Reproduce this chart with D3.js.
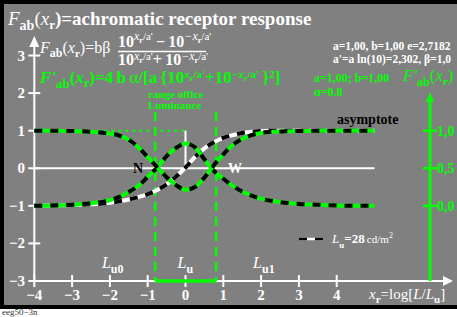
<!DOCTYPE html>
<html><head><meta charset="utf-8">
<script src="https://cdn.jsdelivr.net/npm/d3@7"></script>
<style>body{margin:0;background:#fff}svg{display:block}text{font-family:"Liberation Serif","Times New Roman",serif}</style>
</head><body>
<script>
const xTicks = [-4,-3,-2,-1,0,1,2,3,4];
const yTicks = [3,2,1,0,-1,-2,-3];
const rightTicks = [1,0,-1];
const rightLabels = ["1,0","0,5","0,0"];
const xs = [-4,-3.5,-3,-2.5,-2,-1.75,-1.5,-1.25,-1,-0.75,-0.5,-0.25,0,0.25,0.5,0.75,1,1.25,1.5,1.75,2,2.5,3,3.5,4,4.5,5];
const curveQ = [1.0,1.0,0.99,0.97,0.92,0.87,0.76,0.56,0.30,0.03,-0.24,-0.45,-0.57,-0.50,-0.25,0.08,0.37,0.62,0.78,0.88,0.94,0.98,0.99,1.0,1.0,1.0,1.0];
const curveP = [-1.0,-0.99,-0.97,-0.93,-0.85,-0.76,-0.63,-0.47,-0.23,0.02,0.32,0.54,0.66,0.56,0.24,-0.07,-0.28,-0.47,-0.62,-0.73,-0.81,-0.90,-0.95,-0.97,-0.99,-1.0,-1.0];
const curveW = [-1.0,-0.99,-0.98,-0.96,-0.92,-0.88,-0.83,-0.77,-0.69,-0.58,-0.43,-0.22,0.02,0.30,0.53,0.69,0.81,0.88,0.94,0.97,0.99,1.0,1.0,1.0,1.0,1.0,1.0];
const rangeLo = -0.8, rangeHi = 0.81;
const lumLabels = [{x:-2, sub:"u0"},{x:0, sub:"u"},{x:2, sub:"u1"}];

const W = 457, H = 317;
const GREEN = "#00ff00", GRAY = "#808080";
const svg = d3.select("body").append("svg").attr("width",W).attr("height",H);
svg.append("rect").attr("width",W).attr("height",309).attr("fill","#000");
svg.append("rect").attr("x",4).attr("y",4).attr("width",W).attr("height",301).attr("fill",GRAY);

const x = d3.scaleLinear().domain([-4,4]).range([34.3,336.7]);
const y = d3.scaleLinear().domain([-3,3]).range([281,55.5]);

function rich(g, px, py, size, weight, color, parts, anchor){
  const t = g.append("text").attr("x",px).attr("y",py).attr("font-size",size)
    .attr("font-weight",weight).attr("fill",color);
  if (anchor) t.attr("text-anchor",anchor);
  let cur = 0;
  parts.forEach(p => {
    const o = p.o || 0;
    const ts = t.append("tspan").text(p.t).attr("dy", o - cur).attr("font-size", p.s || size);
    if (p.dx) ts.attr("dx", p.dx);
    if (p.i) ts.attr("font-style","italic");
    if (p.w) ts.attr("font-weight",p.w);
    cur = o;
  });
  return t;
}

// axes
const ax = svg.append("g");
ax.append("line").attr("x1",x(-4)).attr("x2",448).attr("y1",y(-3)).attr("y2",y(-3)).attr("stroke","#fff").attr("stroke-width",2);
ax.append("path").attr("d",`M453,${y(-3)} L443,${y(-3)-5} L443,${y(-3)+5}Z`).attr("fill","#fff");
ax.append("line").attr("x1",x(-4)).attr("x2",x(-4)).attr("y1",y(-3)).attr("y2",44).attr("stroke","#fff").attr("stroke-width",2);
ax.append("path").attr("d",`M${x(-4)},36 L${x(-4)-5},47 L${x(-4)+5},47Z`).attr("fill","#fff");
xTicks.forEach(v=>{
  ax.append("line").attr("x1",x(v)).attr("x2",x(v)).attr("y1",y(-3)-6).attr("y2",y(-3)+6).attr("stroke","#fff").attr("stroke-width",2);
  ax.append("text").attr("x",x(v)).attr("y",300).attr("text-anchor","middle").attr("font-size",15).attr("font-weight","bold").attr("fill","#fff").text(v<0?"\u2212"+(-v):v);
});
yTicks.forEach(v=>{
  ax.append("line").attr("x1",x(-4)-6).attr("x2",x(-4)+6).attr("y1",y(v)).attr("y2",y(v)).attr("stroke","#fff").attr("stroke-width",2);
  ax.append("text").attr("x",25).attr("y",y(v)+5).attr("text-anchor","end").attr("font-size",15).attr("font-weight","bold").attr("fill","#fff").text(v<0?"\u2212"+(-v):v);
});
rich(svg, 369, 299, 15, "normal", "#fff", [{t:"x",i:1},{t:"r",o:4,s:11,w:"bold"},{t:"=log["},{t:"L",i:1},{t:"/"},{t:"L",i:1},{t:"u",o:4,s:11,w:"bold"},{t:"]"}]);

// y=0 line and helper lines
svg.append("line").attr("x1",x(-4)).attr("x2",x(5)).attr("y1",y(0)).attr("y2",y(0)).attr("stroke","#fff").attr("stroke-width",2);
svg.append("line").attr("x1",x(-4)).attr("x2",x(0)).attr("y1",y(1)).attr("y2",y(1)).attr("stroke",GREEN).attr("stroke-width",2).attr("stroke-dasharray","3,4");
svg.append("line").attr("x1",x(0)).attr("x2",x(0)).attr("y1",y(1)).attr("y2",y(0)).attr("stroke","#fff").attr("stroke-width",2);
[rangeLo, rangeHi].forEach(v=>{
  svg.append("line").attr("x1",x(v)).attr("x2",x(v)).attr("y1",112).attr("y2",y(-3)).attr("stroke",GREEN).attr("stroke-width",2.5).attr("stroke-dasharray","9,6");
});
svg.append("line").attr("x1",x(rangeLo)).attr("x2",x(rangeHi)).attr("y1",y(-3)).attr("y2",y(-3)).attr("stroke",GREEN).attr("stroke-width",3.5);

// curves
const line = d3.line().x((d,i)=>x(xs[i])).y(d=>y(d)).curve(d3.curveMonotoneX);
function dashed(data, col){
  svg.append("path").attr("d",line(data)).attr("fill","none").attr("stroke",col).attr("stroke-width",4);
  svg.append("path").attr("d",line(data)).attr("fill","none").attr("stroke","#000").attr("stroke-width",4).attr("stroke-dasharray","8,8");
}
dashed(curveW, "#fff");
dashed(curveP, GREEN);
dashed(curveQ, GREEN);

// right green axis
const rx = 430;
svg.append("line").attr("x1",rx).attr("x2",rx).attr("y1",100).attr("y2",y(-3)).attr("stroke",GREEN).attr("stroke-width",3);
svg.append("path").attr("d",`M${rx},92 L${rx-4},102 L${rx+4},102Z`).attr("fill",GREEN);
rightTicks.forEach((v,i)=>{
  svg.append("line").attr("x1",rx-7).attr("x2",rx+7).attr("y1",y(v)).attr("y2",y(v)).attr("stroke",GREEN).attr("stroke-width",2.5);
  svg.append("text").attr("x",rx+7).attr("y",y(v)+5).attr("font-size",14).attr("font-weight","bold").attr("fill",GREEN).text(rightLabels[i]);
});
rich(svg, 403, 81, 17, "normal", GREEN, [{t:"F'",i:1},{t:"ab",o:5,s:12,w:"bold"},{t:"(",o:0},{t:"x",i:1},{t:"r",o:4,s:11,w:"bold"},{t:")",o:0}]);

// title
rich(svg, 8, 25, 19, "bold", "#fff", [{t:"F",i:1,w:"normal"},{t:"ab",o:5,s:14},{t:"(",w:"normal"},{t:"x",i:1,w:"normal"},{t:"r",o:4,s:13},{t:")=achromatic receptor response"}]);

// white formula
rich(svg, 40, 53, 16, "normal", "#fff", [{t:"F",i:1},{t:"ab",o:4,s:12,w:"bold"},{t:"("},{t:"x",i:1},{t:"r",o:4,s:11,w:"bold"},{t:")=b\u03b2"}]);
const supParts = (pre) => [{t:pre,w:"bold",s:16},{t:"x",o:-7,s:12,i:1},{t:"r",o:-4,s:8,w:"bold"},{t:"/a'",o:-7,s:11}];
const supPartsNeg = (pre) => [{t:pre,w:"bold",s:16},{t:"\u2212x",o:-7,s:12,i:1},{t:"r",o:-4,s:8,w:"bold"},{t:"/a'",o:-7,s:11}];
rich(svg, 118, 46.5, 16, "normal", "#fff", [...supParts("10"), ...supPartsNeg("\u2009\u2212\u200910")]);
svg.append("line").attr("x1",118).attr("x2",206).attr("y1",51.5).attr("y2",51.5).attr("stroke","#fff").attr("stroke-width",1.5);
const denom = (pre) => [{t:pre,w:"bold",s:16},{t:"x",o:-5,s:12,i:1},{t:"r",o:-2,s:8,w:"bold"},{t:"/a'",o:-5,s:11}];
const denomNeg = (pre) => [{t:pre,w:"bold",s:16},{t:"\u2212x",o:-5,s:12,i:1},{t:"r",o:-2,s:8,w:"bold"},{t:"/a'",o:-5,s:11}];
rich(svg, 118, 64.5, 16, "normal", "#fff", [...denom("10"), ...denomNeg("+\u200910")]);

// green formula
rich(svg, 40, 83, 17, "bold", GREEN, [{t:"F'",i:1},{t:"ab",o:5,s:13},{t:"(",o:0},{t:"x",i:1},{t:"r",o:4,s:12},{t:")=4\u2009b\u2009",o:0},{t:"\u03b1",w:"normal"},{t:"/[a\u2009{10"},{t:"x",o:-5,s:11,i:1},{t:"r",o:-2,s:8},{t:"/a'",o:-5,s:11},{t:"+10",o:0},{t:"\u2212x",o:-5,s:11,i:1},{t:"r",o:-2,s:8},{t:"/a'",o:-5,s:11},{t:"\u2009}",o:0},{t:"2",o:-5,s:11},{t:"]",o:0}]);
svg.append("text").attr("x",148).attr("y",97.5).attr("font-size",11).attr("font-weight","bold").attr("fill",GREEN).text("range office");
svg.append("text").attr("x",148).attr("y",109).attr("font-size",11).attr("font-weight","bold").attr("fill",GREEN).text("Luminance");

// parameter text
svg.append("text").attr("x",333).attr("y",50).attr("font-size",11.5).attr("font-weight","bold").attr("fill","#fff").text("a=1,00, b=1,00 e=2,7182");
svg.append("text").attr("x",333).attr("y",63).attr("font-size",11.5).attr("font-weight","bold").attr("fill","#fff").text("a'=a ln(10)=2,302, \u03b2=1,0");
svg.append("text").attr("x",314).attr("y",82).attr("font-size",12).attr("font-weight","bold").attr("fill",GREEN).text("a=1,00; b=1,00");
svg.append("text").attr("x",314).attr("y",96).attr("font-size",12).attr("font-weight","bold").attr("fill",GREEN).text("\u03b1=0.8");

// labels
svg.append("text").attr("x",337).attr("y",124).attr("font-size",14).attr("font-weight","bold").attr("fill","#000").text("asymptote");
svg.append("text").attr("x",133).attr("y",173).attr("font-size",14).attr("font-weight","bold").attr("fill","#000").text("N");
svg.append("text").attr("x",228).attr("y",173).attr("font-size",14).attr("font-weight","bold").attr("fill","#fff").text("W");
lumLabels.forEach(d=>{
  rich(svg, x(d.x)-8, 268, 16, "normal", "#fff", [{t:"L",i:1},{t:d.sub,o:5,s:12,w:"bold"}]);
});

// legend
svg.append("line").attr("x1",299).attr("x2",323).attr("y1",239).attr("y2",239).attr("stroke","#fff").attr("stroke-width",2.5);
svg.append("line").attr("x1",299).attr("x2",323).attr("y1",239).attr("y2",239).attr("stroke","#000").attr("stroke-width",2.5).attr("stroke-dasharray","8,8");
rich(svg, 332, 243, 13, "bold", "#fff", [{t:"L",i:1,w:"normal"},{t:"u",o:5,s:9},{t:"=28",o:0},{t:"\u2009cd/m",w:"normal",s:11},{t:"2",o:-5,s:8,w:"normal"}]);

svg.append("text").attr("x",2).attr("y",315).attr("font-size",9).attr("fill","#333").text("eeg50\u22123n");
</script>
</body></html>
